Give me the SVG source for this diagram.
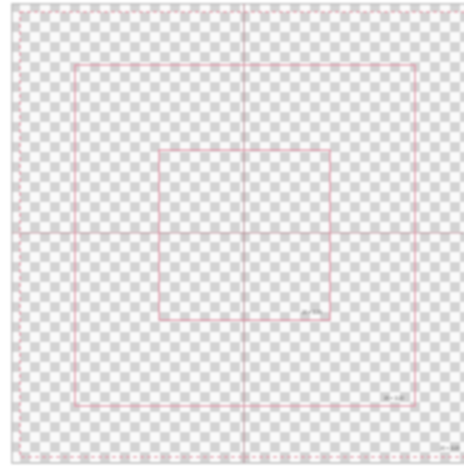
<svg xmlns="http://www.w3.org/2000/svg" width="464" height="468" viewBox="0 0 464 468">
<defs>
<pattern id="chk" patternUnits="userSpaceOnUse" x="20" y="12" width="20" height="20">
<rect width="20" height="20" fill="#fafafa"/>
<rect width="10" height="10" fill="#d3d3d3"/>
<rect x="10" y="10" width="10" height="10" fill="#d3d3d3"/>
</pattern>
<filter id="blur" x="-5%" y="-5%" width="110%" height="110%"><feGaussianBlur stdDeviation="0.8"/></filter>
</defs>
<style>
.g{fill:none;stroke:#e394a8;stroke-width:1.5}
.d{fill:none;stroke:#e79aac;stroke-width:1.6;stroke-dasharray:4 3}
.c{stroke:#b98a94;stroke-width:1.2}
.f{fill:none;stroke:#b9b9b9;stroke-width:1.5}
.t{font-family:"Liberation Sans",Arial,sans-serif;font-size:4.5px;fill:#555}
</style>
<rect width="464" height="468" fill="#ffffff"/>
<g filter="url(#blur)">
<rect x="12" y="4" width="460" height="459" fill="url(#chk)"/>
<rect class="f" x="12" y="4" width="460" height="459"/>
<rect class="d" x="20" y="12" width="452" height="445"/>
<g id="guides">
<line class="c" x1="244" y1="4" x2="244" y2="463"/>
<line class="c" x1="12" y1="233" x2="464" y2="233"/>
</g>
<g id="middle">
<rect class="g" x="75" y="65" width="340" height="341"/>
<text class="t" x="384" y="400">20 × 1120</text>
</g>
<g id="inner">
<rect class="g" x="159" y="150" width="171" height="170"/>
<text class="t" x="302" y="314">20 × 1120</text>
</g>
<g id="outer-label">
<text class="t" x="440" y="450">20 × 1120</text>
</g>
</g>
</svg>
